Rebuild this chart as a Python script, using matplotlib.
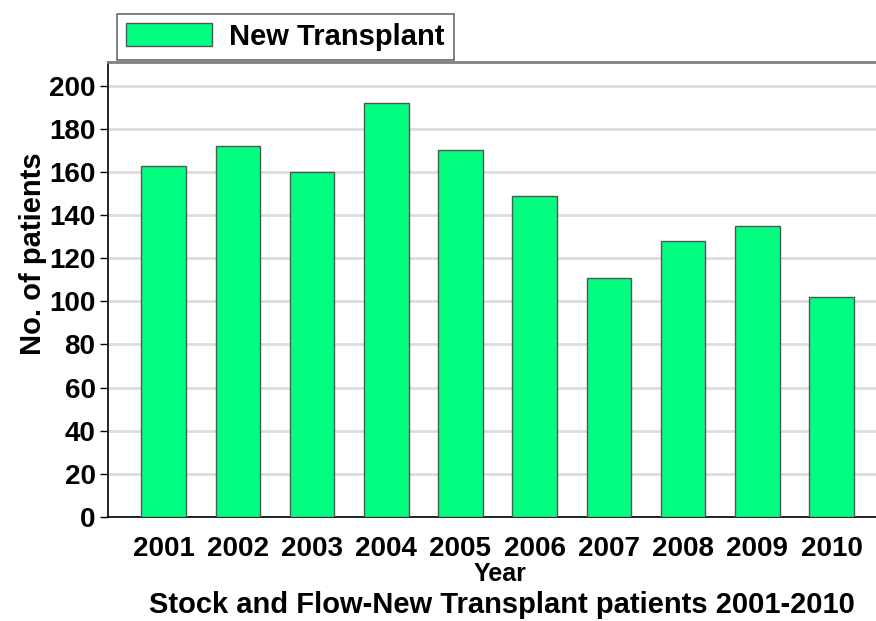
import matplotlib
matplotlib.use("Agg")
import matplotlib.pyplot as plt
from matplotlib.patches import Patch

plt.rcParams['font.family'] = ['Liberation Sans', 'DejaVu Sans']
plt.rcParams['font.weight'] = 'bold'

years = ["2001", "2002", "2003", "2004", "2005", "2006", "2007", "2008", "2009", "2010"]
new_transplant = [163, 172, 160, 192, 170, 149, 111, 128, 135, 102]
yticks = [0, 20, 40, 60, 80, 100, 120, 140, 160, 180, 200]

W, H = 876, 621
fig = plt.figure(figsize=(W / 100, H / 100), dpi=100)
ax = fig.add_axes([108 / W, (H - 517) / H, (W - 108) / W, (517 - 62) / H])

x = range(len(years))
ax.bar(x, new_transplant, width=0.6, color="#00ff80", edgecolor="#555555", linewidth=1, zorder=3)

ax.set_xlim(-0.75, 9.6)
ax.set_ylim(0, 211)
ax.set_yticks(yticks)
ax.set_yticklabels([str(t) for t in yticks], fontsize=20, fontweight='bold')
ax.set_xticks(list(x))
ax.set_xticklabels(years, fontsize=20, fontweight='bold')
ax.tick_params(axis='x', length=0, pad=14)
ax.tick_params(axis='y', length=6, width=1, pad=3)
ax.yaxis.grid(True, color="#dddddd", linewidth=2, zorder=0)

ax.spines['right'].set_visible(False)
ax.spines['top'].set_color("#808080")
ax.spines['top'].set_linewidth(2)
ax.spines['left'].set_linewidth(1.2)
ax.spines['bottom'].set_linewidth(1.2)

fig.text(33 / W, 1 - 254 / H, "No. of patients", rotation=90, ha='center', va='center',
         fontsize=21, fontweight='bold')
fig.text(500 / W, 1 - 574 / H, "Year", ha='center', va='center', fontsize=18, fontweight='bold')
fig.text(502 / W, 1 - 605 / H, "Stock and Flow-New Transplant patients 2001-2010",
         ha='center', va='center', fontsize=21, fontweight='bold')

handle = Patch(facecolor="#00ff80", edgecolor="#555555")
leg = fig.legend([handle], ["New Transplant"], loc='upper left', bbox_to_anchor=(117 / W, 1 - 14 / H),
                 borderaxespad=0, frameon=True, fancybox=False, handlelength=2.95, handleheight=0.86,
                 borderpad=0.3, handletextpad=0.6, prop={'weight': 'bold', 'size': 21})
leg.get_frame().set_edgecolor("#444444")
leg.get_frame().set_linewidth(1.2)

fig.savefig("out.png", dpi=100)
